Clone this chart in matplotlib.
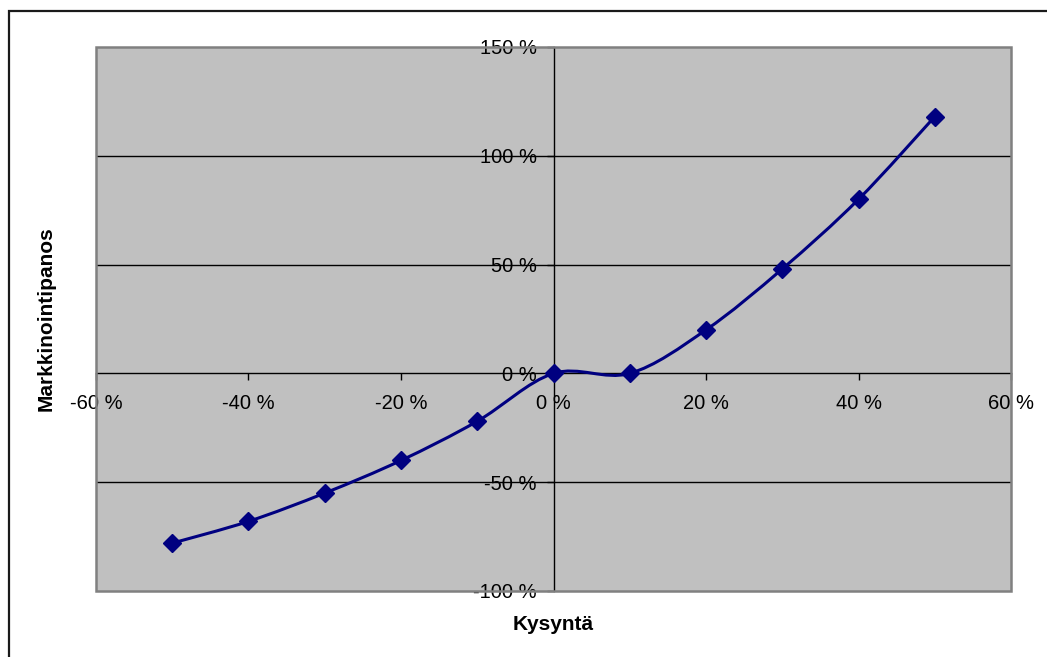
import matplotlib
matplotlib.use("Agg")
import matplotlib.pyplot as plt
from matplotlib.path import Path
from matplotlib.patches import PathPatch, Rectangle
from matplotlib.ticker import FuncFormatter, MultipleLocator

plt.rcParams["font.family"] = ["Liberation Sans", "DejaVu Sans"]

# Demand change (%) vs. marketing spend change (%)
demand = [-50, -40, -30, -20, -10, 0, 10, 20, 30, 40, 50]
marketing = [-78, -68, -55, -40, -22, 0, 0, 20, 48, 80, 118]

x_label = "Kysyntä"
y_label = "Markkinointipanos"

W, H = 1047, 657
fig = plt.figure(figsize=(W / 100, H / 100), dpi=100)
fig.patch.set_facecolor("white")

# chart frame
fig.patches.append(Rectangle((9 / W, -0.2), 1.5, 1.2 - 11 / H,
                             transform=fig.transFigure, fill=False,
                             edgecolor="#1a1a1a", linewidth=1.6))

left, right, top, bottom = 96, 1011, 47, 591
ax = fig.add_axes([left / W, 1 - bottom / H, (right - left) / W, (bottom - top) / H])
ax.set_facecolor("#C0C0C0")
ax.set_xlim(-60, 60)
ax.set_ylim(-100, 150)

# plot-area border
ax.add_patch(Rectangle((0, 0), 1, 1, transform=ax.transAxes, fill=False,
                       edgecolor="#808080", linewidth=1.8, clip_on=False, zorder=5))

for s in ("top", "right"):
    ax.spines[s].set_visible(False)
ax.spines["left"].set_position(("data", 0))
ax.spines["bottom"].set_position(("data", 0))
for s in ("left", "bottom"):
    ax.spines[s].set_color("black")
    ax.spines[s].set_linewidth(1.0)
    ax.spines[s].set_zorder(3)

ax.xaxis.set_major_locator(MultipleLocator(20))
ax.yaxis.set_major_locator(MultipleLocator(50))
fmt = FuncFormatter(lambda v, p: f"{v:.0f} %")
ax.xaxis.set_major_formatter(fmt)
ax.yaxis.set_major_formatter(fmt)
ax.tick_params(axis="both", direction="out", length=5, width=1, color="black",
               labelsize=14.5, labelcolor="black")
ax.tick_params(axis="x", pad=10)
ax.tick_params(axis="y", pad=7)

# horizontal gridlines
for yv in (-50, 50, 100):
    ax.axhline(yv, color="black", linewidth=1.0, zorder=1)

# smoothed line through the points (cubic Bezier, Catmull-Rom tangents)
pts = list(zip(demand, marketing))
verts = [pts[0]]
codes = [Path.MOVETO]
n = len(pts)
for i in range(n - 1):
    p0 = pts[i - 1] if i > 0 else pts[i]
    p1 = pts[i]
    p2 = pts[i + 1]
    p3 = pts[i + 2] if i + 2 < n else pts[i + 1]
    c1 = (p1[0] + (p2[0] - p0[0]) / 6, p1[1] + (p2[1] - p0[1]) / 6)
    c2 = (p2[0] - (p3[0] - p1[0]) / 6, p2[1] - (p3[1] - p1[1]) / 6)
    verts += [c1, c2, p2]
    codes += [Path.CURVE4] * 3
ax.add_patch(PathPatch(Path(verts, codes), fill=False, edgecolor="#000080",
                       linewidth=2.2, zorder=4))
ax.plot(demand, marketing, linestyle="none", marker="D", markersize=9,
        color="#000080", zorder=6)

fig.text(553 / W, 1 - 625 / H, x_label, ha="center", va="center",
         fontsize=15, fontweight="bold")
fig.text(46 / W, 1 - 319 / H, y_label, ha="center", va="center",
         rotation=90, fontsize=15, fontweight="bold")

fig.savefig("out.png", dpi=100)
